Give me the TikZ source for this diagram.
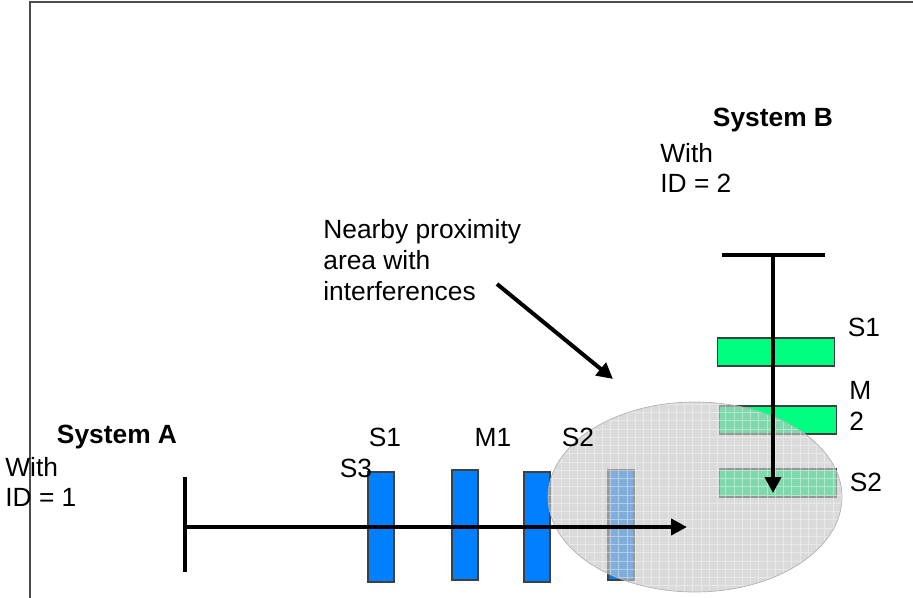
\documentclass[tikz,border=0pt]{standalone}
\usepackage{fontspec}
\setmainfont{Liberation Sans}
\usetikzlibrary{arrows.meta}
\definecolor{sysblue}{RGB}{0,128,255}
\definecolor{sysgreen}{RGB}{0,255,128}

\begin{document}
\begin{tikzpicture}[x=0.02cm, y=-0.02cm,
			txt/.style={font=\fontsize{15}{17.5}\selectfont, inner sep=0pt, align=left},
			title/.style={font=\fontsize{15}{17.5}\selectfont\bfseries, inner sep=0pt},
			bluebox/.style={draw=black!75, line width=0.6pt, fill=sysblue,
				minimum width=0.52cm, minimum height=2.2cm, inner sep=0pt},
			greenbox/.style={draw=black!75, line width=0.6pt, fill=sysgreen,
				minimum width=2.33cm, minimum height=0.56cm, inner sep=0pt},
			thickline/.style={line width=0.08cm},
			>={Triangle[length=0.32cm, width=0.32cm]}]
	\useasboundingbox (0,0) rectangle (913,598);
	\draw[gray!60!black, line width=0.045cm] (30,598) -- (30,2) -- (913,2);
	% system A
	\node[bluebox] (a1) at (381,527) {};
	\node[bluebox] (a2) at (465,525) {};
	\node[bluebox] (a3) at (537,527) {};
	\node[bluebox] (a4) at (621,525) {};
	% system B
	\node[greenbox] (b1) at (776,352) {};
	\node[greenbox] (b2) at (778,420) {};
	\node[greenbox] (b3) at (778,483) {};
	% proximity area
	\fill[gray!45, opacity=0.65] (695,497) ellipse [x radius=2.94cm, y radius=1.9cm];
	\begin{scope}
		\clip (695,497) ellipse [x radius=2.94cm, y radius=1.9cm];
		\draw[white, opacity=0.4, step=0.165cm] (540,396) grid (850,600);
	\end{scope}
	\draw[gray!60, line width=0.4pt] (695,497) ellipse [x radius=2.94cm, y radius=1.9cm];
	% labels
	\node[title] (titleA) at (117,437) {System A};
	\node[txt, anchor=west] (idA) at (5,482) {With\\ID = 1};
	\node[txt] (la1) at (385,437) {S1};
	\node[txt] (la2) at (493,437) {M1};
	\node[txt] (la3) at (578,437) {S2};
	\node[txt] (la4) at (356,468) {S3};
	\node[title] (titleB) at (773,120) {System B};
	\node[txt, anchor=west] (idB) at (660,168) {With\\ID = 2};
	\node[txt] (lb1) at (864,327) {S1};
	\node[txt, anchor=west] (lb2) at (849,406) {M\\2};
	\node[txt] (lb3) at (866,482) {S2};
	\node[txt, anchor=west] (note) at (323,260) {Nearby proximity\\area with\\interferences};
	% paths
	\coordinate (startA) at (185,527);
	\coordinate (endA) at (687,527);
	\coordinate (startB) at (773,255);
	\coordinate (endB) at (773,493);
	\coordinate (tailN) at (497,284);
	\coordinate (headN) at (613,379);
	\draw[thickline] (185,477) -- (185,572);
	\draw[thickline] (722,255) -- (825,255);
	\draw[thickline, ->] (startA) -- (endA);
	\draw[thickline, ->] (startB) -- (endB);
	\draw[thickline, ->] (tailN) -- (headN);
\end{tikzpicture}
\end{document}
